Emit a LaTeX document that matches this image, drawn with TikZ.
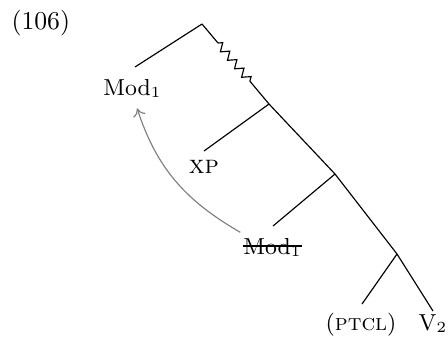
\documentclass[tikz,border=0pt]{standalone}
\usetikzlibrary{decorations.pathmorphing,arrows.meta}
\begin{document}
\begin{tikzpicture}[x=0.389pt,y=-0.389pt,
  br/.style={line width=0.45pt},
  zz/.style={line width=0.45pt, decorate, decoration={zigzag, segment length=4.3pt, amplitude=1.5pt}},
  lab/.style={font=\small, inner sep=3pt},
  mv/.style={draw=black!50, line width=0.45pt, -{To[length=3pt,width=5pt]}}]
\useasboundingbox (0,0) rectangle (448,340);
\node[anchor=base west, inner sep=0pt] (ex) at (11,29.5) {(106)};
% tree nodes
\coordinate (T) at (202,24);
\coordinate (z1) at (218,43);
\coordinate (z2) at (252,83.7);
\coordinate (N2) at (269,104);
\coordinate (N3) at (335,174);
\coordinate (N4) at (397,254);
% leaf ends
\coordinate (L1) at (135,67);
\coordinate (L2) at (204,151);
\coordinate (L3) at (273,226);
\coordinate (L4) at (362,304);
\coordinate (L5) at (433,311);
% labels
\node[lab, anchor=base] (mod) at (132.5,95) {Mod$_1$};
\node[lab, font=\normalsize, anchor=base] (xp) at (204,173) {\textsc{xp}};
\node[lab, anchor=base, inner xsep=0pt] (smod) at (272.5,254) {Mod$_1$};
\draw[line width=0.45pt] ([yshift=3.1pt]smod.base west) -- ([yshift=3.1pt]smod.base east);
\node[lab, anchor=base] (ptcl) at (361,330) {(\textsc{ptcl})};
\node[lab, anchor=base] (v) at (433,330) {V$_2$};
% branches
\draw[br] (T) -- (L1);
\draw[br] (T) -- (z1);
\draw[zz] (z1) -- (z2);
\draw[br] (z2) -- (N2);
\draw[br] (N2) -- (L2);
\draw[br] (N2) -- (N3);
\draw[br] (N3) -- (L3);
\draw[br] (N3) -- (N4);
\draw[br] (N4) -- (L4);
\draw[br] (N4) -- (L5);
% movement arrow
\draw[mv] ([xshift=-1pt,yshift=-1pt]smod.north west) to[out=150,in=-72] ([xshift=1.8pt,yshift=-1pt]mod.south);
\end{tikzpicture}
\end{document}
